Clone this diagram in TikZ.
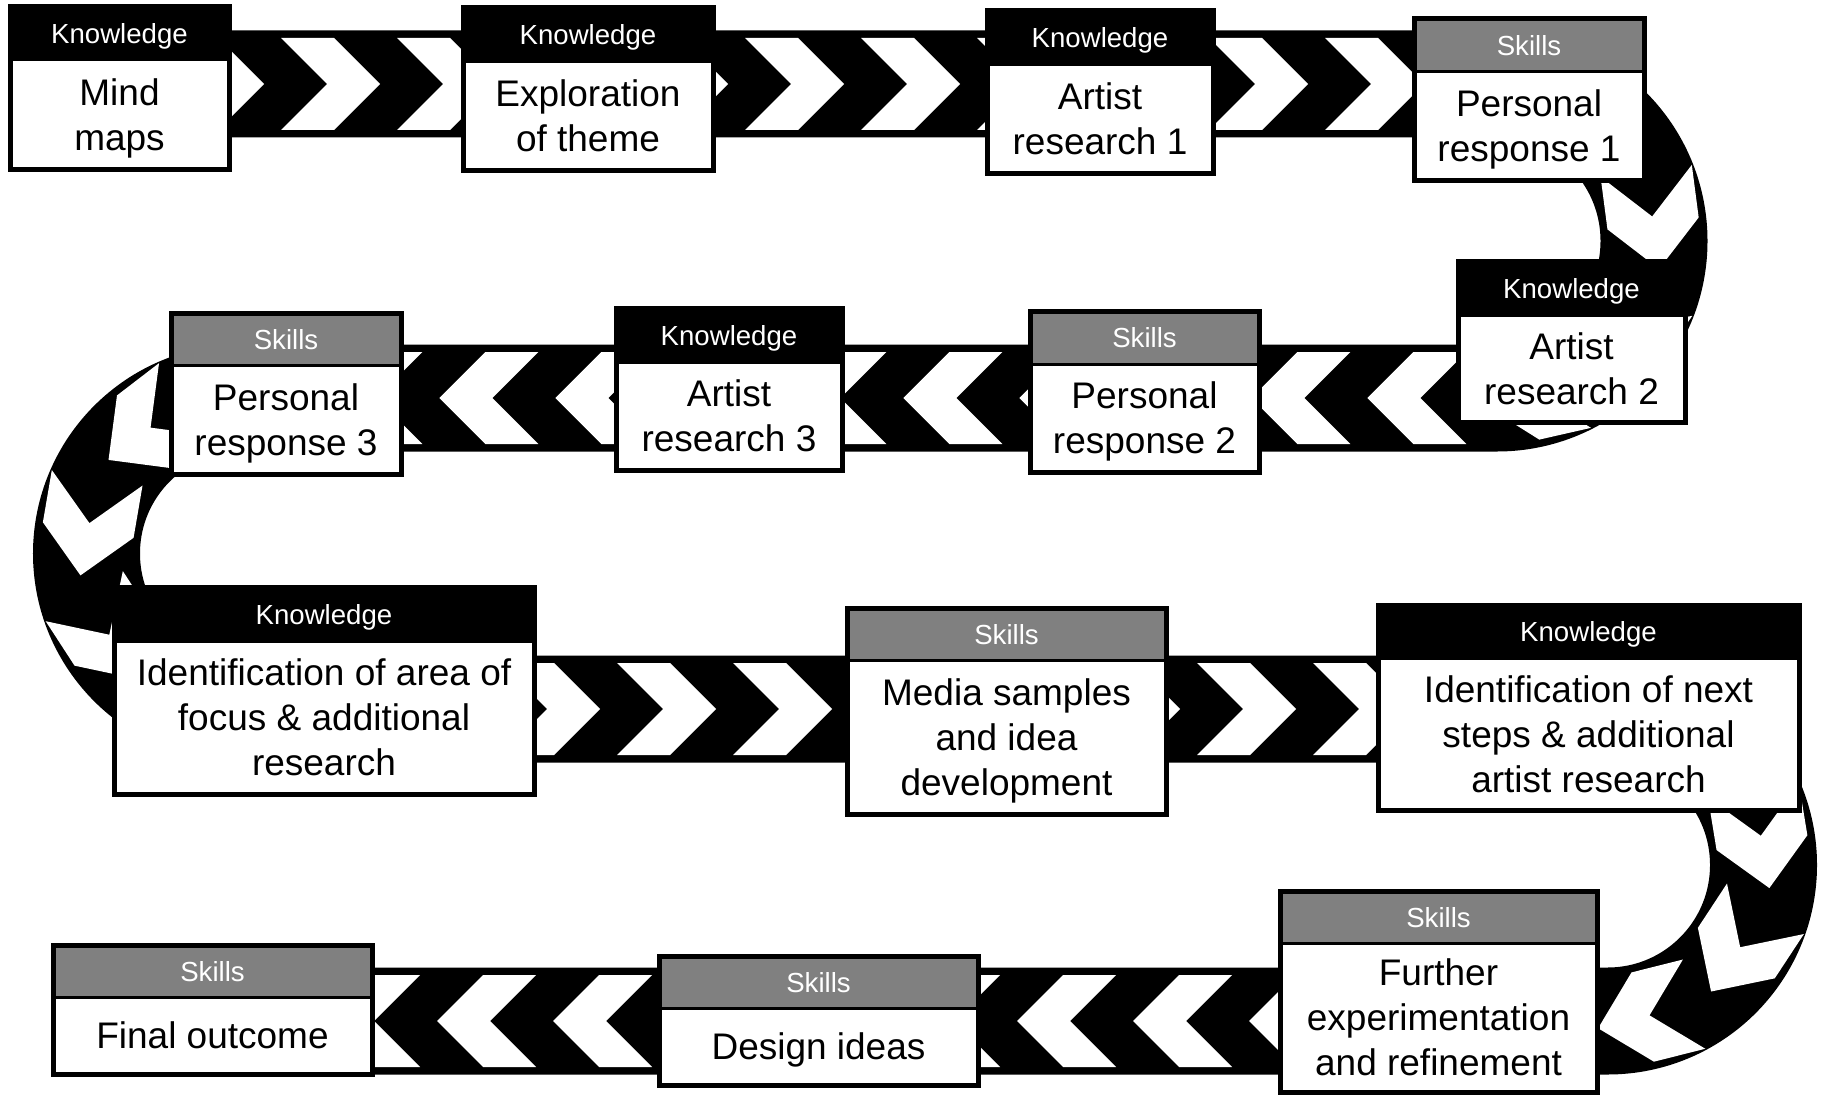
\documentclass[tikz,border=0pt]{standalone}
\usepackage{fontspec}
\setmainfont{Liberation Sans}
\usetikzlibrary{decorations.markings}
\definecolor{headgray}{RGB}{128,128,128}

\begin{document}
\begin{tikzpicture}[x=0.5pt, y=-0.5pt,
    band/.style={draw=black, line width=53.5pt},
    chevrons/.style={postaction={decorate}, decoration={markings,
      mark=between positions 25pt and 1 step 58pt with
      {\fill[white] (-50,46) -- (3,46) -- (49,0) -- (3,-46) -- (-50,-46) -- (-4,0) -- cycle;}}},
    knowhd/.style={fill=black, draw=black, line width=1.5pt},
    skillhd/.style={fill=headgray, draw=black, line width=1.5pt},
    stagebody/.style={fill=white, draw=black, line width=1.5pt},
    stageframe/.style={draw=black, line width=2.5pt},
    hdtext/.style={text=white, inner sep=0pt, text height=10pt, text depth=0pt,
      font=\fontsize{13.8}{16}\selectfont},
    stagetext/.style={text=black, inner sep=0pt, align=center, text depth=0pt,
      font=\fontsize{18.5}{22.5}\selectfont}]
      \useasboundingbox (0,0) rectangle (1825,1097);
      % the winding road
      \draw[band, chevrons] (49,84) -- (1497,84) arc[start angle=-90, end angle=90, radius=157]
            -- (242,398) arc[start angle=-90, end angle=-270, radius=155.5]
            -- (1607.5,709) arc[start angle=-90, end angle=90, radius=156]
            -- (200,1021);
      % headers
      \draw[knowhd] (10,7) rectangle (229,60) node (h1) [hdtext, pos=.5] {Knowledge}
            (463,8) rectangle (713,62) node (h2) [hdtext, pos=.5] {Knowledge}
            (987,11) rectangle (1213,65) node (h3) [hdtext, pos=.5] {Knowledge}
            (1458,261) rectangle (1685,315) node (h5) [hdtext, pos=.5] {Knowledge}
            (616,308) rectangle (842,362) node (h7) [hdtext, pos=.5] {Knowledge}
            (114,587) rectangle (534,641) node (h9) [hdtext, pos=.5] {Knowledge}
            (1378,605) rectangle (1799,658) node (h11) [hdtext, pos=.5] {Knowledge};
      \draw[skillhd] (1414,19) rectangle (1644,72) node (h4) [hdtext, pos=.5] {Skills}
            (1030,311) rectangle (1259,364) node (h6) [hdtext, pos=.5] {Skills}
            (171,313) rectangle (401,365) node (h8) [hdtext, pos=.5] {Skills}
            (847,608) rectangle (1166,660) node (h10) [hdtext, pos=.5] {Skills}
            (1280,891) rectangle (1597,943) node (h12) [hdtext, pos=.5] {Skills}
            (659,956) rectangle (978,1008) node (h13) [hdtext, pos=.5] {Skills}
            (53,945) rectangle (372,997) node (h14) [hdtext, pos=.5] {Skills};
      % bodies
      \draw[stagebody] (10,60) rectangle (229,169) node (s1) [stagetext, pos=.5] {Mind\\maps}
            (463,62) rectangle (713,170) node (s2) [stagetext, pos=.5] {Exploration\\of theme}
            (987,65) rectangle (1213,173) node (s3) [stagetext, pos=.5] {Artist\\research 1}
            (1414,72) rectangle (1644,180) node (s4) [stagetext, pos=.5] {Personal\\response 1}
            (1458,315) rectangle (1685,422) node (s5) [stagetext, pos=.5] {Artist\\research 2}
            (1030,364) rectangle (1259,472) node (s6) [stagetext, pos=.5] {Personal\\response 2}
            (616,362) rectangle (842,470) node (s7) [stagetext, pos=.5] {Artist\\research 3}
            (171,365) rectangle (401,474) node (s8) [stagetext, pos=.5] {Personal\\response 3}
            (114,641) rectangle (534,794) node (s9) [stagetext, pos=.5] {Identification of area of\\focus \& additional\\research}
            (847,660) rectangle (1166,814) node (s10) [stagetext, pos=.5] {Media samples\\and idea\\development}
            (1378,658) rectangle (1799,810) node (s11) [stagetext, pos=.5] {Identification of next\\steps \& additional\\artist research}
            (1280,943) rectangle (1597,1092) node (s12) [stagetext, pos=.5] {Further\\experimentation\\and refinement}
            (659,1008) rectangle (978,1085) node (s13) [stagetext, pos=.5] {Design ideas}
            (53,997) rectangle (372,1074) node (s14) [stagetext, pos=.5] {Final outcome};
      % outer frames
      \draw[stageframe] (10,7) rectangle (229,169) (463,8) rectangle (713,170)
            (987,11) rectangle (1213,173) (1414,19) rectangle (1644,180)
            (1458,261) rectangle (1685,422) (1030,311) rectangle (1259,472)
            (616,308) rectangle (842,470) (171,313) rectangle (401,474)
            (114,587) rectangle (534,794) (847,608) rectangle (1166,814)
            (1378,605) rectangle (1799,810) (1280,891) rectangle (1597,1092)
            (659,956) rectangle (978,1085) (53,945) rectangle (372,1074);
\end{tikzpicture}
\end{document}
